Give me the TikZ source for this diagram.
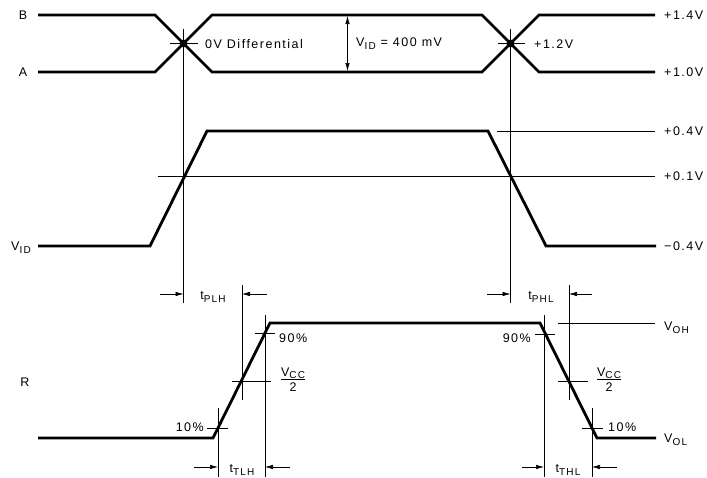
\documentclass[tikz,border=0pt]{standalone}
\usepackage{fontspec}
\setmainfont{Liberation Sans}[LetterSpace=12]
\usetikzlibrary{arrows.meta}

\newcommand\subtxt[1]{\raisebox{-0.45ex}{\fontsize{10}{10}\selectfont #1}}

\tikzset{
  wave/.style={line width=2.8pt},
  guide/.style={line width=0.6pt},
  dimarrow/.style={guide,-{Latex[length=8pt,width=4.5pt]}},
  lbl/.style={font=\fontsize{12.5}{14}\selectfont, inner sep=1pt},
}

\begin{document}
\begin{tikzpicture}[x=1pt,y=-1pt]
    \useasboundingbox (0,0) rectangle (707,477);

    % differential input B / A
    \draw[wave] (38,15) -- (155,15) -- (212,72) -- (482,72) -- (539,15) -- (655,15);
    \draw[wave] (38,72) -- (155,72) -- (212,15) -- (482,15) -- (539,72) -- (655,72);
    \coordinate (x_1) at (183.5,43.5);
    \coordinate (x_2) at (510.5,43.5);
    \fill (x_1) circle (4);
    \fill (x_2) circle (4);
    \draw[guide] (170,43.5) -- (198,43.5);
    \draw[guide] (498,43.5) -- (525,43.5);
    \draw[guide] (183.5,29) -- (183.5,303);
    \draw[guide] (510.5,29) -- (510.5,303);
    \draw[guide,{Latex[length=8pt,width=4.5pt]}-{Latex[length=8pt,width=4.5pt]}] (347.5,16) -- (347.5,71);

    % V_ID
    \draw[wave] (38,246) -- (150,246) -- (207,131) -- (488,131) -- (546,246) -- (656,246);
    \draw[guide] (158,176) -- (655,176);
    \draw[guide] (497,131) -- (655,131);

    % receiver output R
    \draw[wave] (38,438) -- (213,438) -- (270,323) -- (540,323) -- (597,438) -- (656,438);
    \draw[guide] (558,323) -- (655,323);
    \draw[guide] (242,285) -- (242,400);
    \draw[guide] (569,285) -- (569,400);
    \draw[guide] (265,315) -- (265,477);
    \draw[guide] (218,408) -- (218,477);
    \draw[guide] (544,315) -- (544,477);
    \draw[guide] (592,408) -- (592,477);
    \draw[guide] (255,333) -- (275,333);
    \draw[guide] (232,381) -- (271,381);
    \draw[guide] (207,428) -- (228,428);
    \draw[guide] (535,334) -- (555,334);
    \draw[guide] (558,381) -- (588,381);
    \draw[guide] (582,428) -- (603,428);

    % timing arrows
    \draw[dimarrow] (160,294) -- (183.5,294);
    \draw[dimarrow] (267,294) -- (242,294);
    \draw[dimarrow] (487,294) -- (510.5,294);
    \draw[dimarrow] (592,294) -- (569,294);
    \draw[dimarrow] (194,467) -- (218,467);
    \draw[dimarrow] (290,467) -- (265,467);
    \draw[dimarrow] (522,467) -- (544,467);
    \draw[dimarrow] (617,467) -- (592,467);

    % labels
    \node[lbl] (lb_B)  at (23,15)  {B};
    \node[lbl] (lb_A)  at (23,72)  {A};
    \node[lbl] (lb_VID) at (21,248) {V\subtxt{ID}};
    \node[lbl] (lb_R)  at (25,382) {R};
    \node[lbl,anchor=west] (v_14) at (663,15)  {+1.4V};
    \node[lbl,anchor=west] (v_10) at (663,72)  {+1.0V};
    \node[lbl,anchor=west] (v_04) at (663,131) {+0.4V};
    \node[lbl,anchor=west] (v_01) at (663,176) {+0.1V};
    \node[lbl,anchor=west] (v_m04) at (663,246) {−0.4V};
    \node[lbl,anchor=west] (v_OH) at (663,328) {V\subtxt{OH}};
    \node[lbl,anchor=west] (v_OL) at (663,440) {V\subtxt{OL}};
    \node[lbl,anchor=west] (lb_diff) at (204,44) {0V Differential};
    \node[lbl,anchor=west] (lb_vid) at (355,44) {V\subtxt{ID} = 400 mV};
    \node[lbl,anchor=west] (lb_12) at (533,44) {+1.2V};
    \node[lbl] (t_plh) at (213,297) {t\subtxt{PLH}};
    \node[lbl] (t_phl) at (541,297) {t\subtxt{PHL}};
    \node[lbl] (t_tlh) at (242,470) {t\subtxt{TLH}};
    \node[lbl] (t_thl) at (568,470) {t\subtxt{THL}};
    \node[lbl,anchor=west] (p_90r) at (278,338) {90\%};
    \node[lbl,anchor=east] (p_10r) at (205,427) {10\%};
    \node[lbl,anchor=east] (p_90f) at (532,338) {90\%};
    \node[lbl,anchor=west] (p_10f) at (607,427) {10\%};
    \node[lbl] (h_r) at (293,381) {\begin{tabular}{@{}c@{}}V\subtxt{CC}\\[-1pt]\hline\rule{0pt}{12pt}2\end{tabular}};
    \node[lbl] (h_f) at (609,381) {\begin{tabular}{@{}c@{}}V\subtxt{CC}\\[-1pt]\hline\rule{0pt}{12pt}2\end{tabular}};
\end{tikzpicture}
\end{document}
